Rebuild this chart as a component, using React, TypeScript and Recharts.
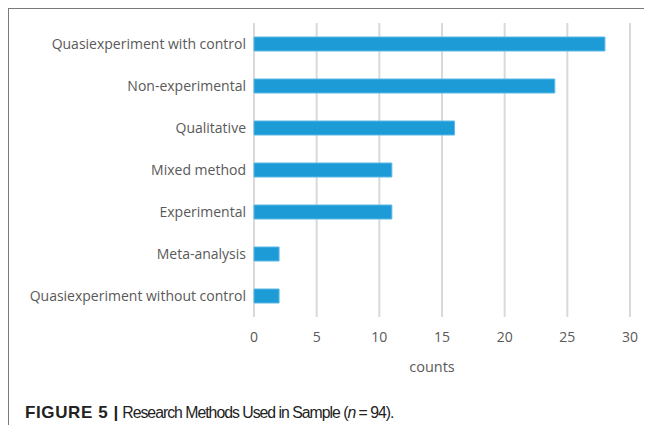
import { BarChart, Bar, XAxis, YAxis, CartesianGrid, Label } from "recharts"

const methods = [
  "Quasiexperiment with control",
  "Non-experimental",
  "Qualitative",
  "Mixed method",
  "Experimental",
  "Meta-analysis",
  "Quasiexperiment without control",
]
const counts = [28, 24, 16, 11, 11, 2, 2]
const xTicks = [0, 5, 10, 15, 20, 25, 30]

const chartData = methods.map((method, i) => ({ method, count: counts[i] }))

const FONT = "'Open Sans', sans-serif"
const TEXT_GRAY = "#595959"

export default function App() {
  return (
    <div
      style={{
        position: "relative",
        width: 643,
        height: 416,
        borderTop: "1px solid #7a7a7a",
        borderLeft: "1px solid #7a7a7a",
        background: "#fff",
      }}
    >
      <BarChart
        width={636}
        height={368}
        data={chartData}
        layout="vertical"
        margin={{ top: 14, right: 15, left: 0, bottom: 0 }}
        barSize={14}
      >
        <CartesianGrid horizontal={false} stroke="#d9d9d9" strokeWidth={2} />
        <XAxis
          type="number"
          domain={[0, 30]}
          ticks={xTicks}
          axisLine={false}
          tickLine={false}
          tickMargin={9}
          height={60}
          tick={{ fill: TEXT_GRAY, fontSize: 14, fontFamily: FONT }}
        >
          <Label
            value="counts"
            position="insideBottom"
            offset={5}
            dx={-10}
            style={{ fill: TEXT_GRAY, fontSize: 14.5, fontFamily: FONT }}
          />
        </XAxis>
        <YAxis
          type="category"
          dataKey="method"
          width={245}
          axisLine={false}
          tickLine={false}
          tickMargin={2}
          interval={0}
          tick={{ fill: TEXT_GRAY, fontSize: 14, fontFamily: FONT }}
        />
        <Bar dataKey="count" fill="#1d9bd7" stroke="#5cb9e6" strokeWidth={1} isAnimationActive={false} />
      </BarChart>
      <div
        style={{
          position: "absolute",
          left: 16,
          top: 394,
          fontFamily: "'Liberation Sans', Arial, sans-serif",
          color: "#222",
          whiteSpace: "nowrap",
        }}
      >
        <b style={{ fontSize: 17, letterSpacing: 0.6 }}>FIGURE 5 |</b>
        <span style={{ fontSize: 15.8, letterSpacing: -1 }}>
          {" "}Research Methods Used in Sample (<i>n</i> = 94).
        </span>
      </div>
    </div>
  )
}
